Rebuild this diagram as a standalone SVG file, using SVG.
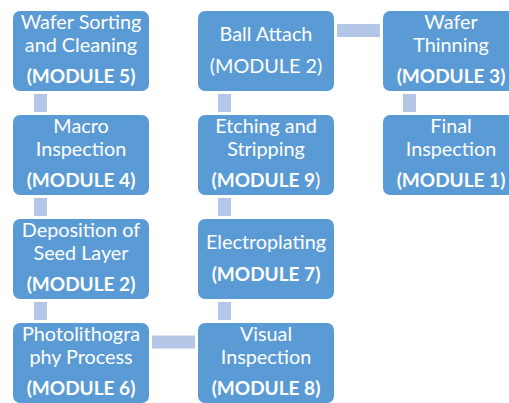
<svg xmlns="http://www.w3.org/2000/svg" width="509" height="403" viewBox="0 0 509 403">
<style>
.box{fill:#5B9BD5}
.con{fill:#B4C7E7}
text{font-family:Lato,"Liberation Sans",sans-serif;font-size:19.8px;fill:#FFFFFF;text-anchor:middle}
.b{font-weight:bold;font-size:19px}
.r{font-weight:normal}
</style>
<rect width="509" height="403" fill="#FFFFFF"/>
<g id="connectors">
<rect class="con" x="34" y="94" width="13" height="18"/>
<rect class="con" x="34" y="198" width="13" height="18"/>
<rect class="con" x="34" y="302" width="13" height="18"/>
<rect class="con" x="152" y="335.5" width="43" height="13"/>
<rect class="con" x="218" y="302" width="13" height="18"/>
<rect class="con" x="218" y="198" width="13" height="18"/>
<rect class="con" x="218" y="94" width="13" height="18"/>
<rect class="con" x="337" y="24" width="43" height="13"/>
<rect class="con" x="403" y="94" width="13" height="18"/>
</g>
<g id="n1">
<rect class="box" x="13" y="11" width="136" height="80" rx="7"/>
<text x="81" y="29">Wafer Sorting</text>
<text x="81" y="52">and Cleaning</text>
<text x="81" y="83" class="b">(MODULE 5)</text>
</g>
<g id="n2">
<rect class="box" x="13" y="115" width="136" height="80" rx="7"/>
<text x="81" y="133">Macro</text>
<text x="81" y="156">Inspection</text>
<text x="81" y="187" class="b">(MODULE 4)</text>
</g>
<g id="n3">
<rect class="box" x="13" y="219" width="136" height="80" rx="7"/>
<text x="81" y="237">Deposition of</text>
<text x="81" y="260">Seed Layer</text>
<text x="81" y="291" class="b">(MODULE 2)</text>
</g>
<g id="n4">
<rect class="box" x="13" y="323" width="136" height="80" rx="7"/>
<text x="81" y="341">Photolithogra</text>
<text x="81" y="364">phy Process</text>
<text x="81" y="395" class="b">(MODULE 6)</text>
</g>
<g id="n5">
<rect class="box" x="198" y="323" width="136" height="80" rx="7"/>
<text x="266" y="341">Visual</text>
<text x="266" y="364">Inspection</text>
<text x="266" y="395" class="b">(MODULE 8)</text>
</g>
<g id="n6">
<rect class="box" x="198" y="219" width="136" height="80" rx="7"/>
<text x="266" y="249">Electroplating</text>
<text x="266" y="281" class="b">(MODULE 7)</text>
</g>
<g id="n7">
<rect class="box" x="198" y="115" width="136" height="80" rx="7"/>
<text x="266" y="133">Etching and</text>
<text x="266" y="156">Stripping</text>
<text x="266" y="187"><tspan class="b">(MODULE 9</tspan><tspan class="r">)</tspan></text>
</g>
<g id="n8">
<rect class="box" x="198" y="11" width="136" height="80" rx="7"/>
<text x="266" y="41">Ball Attach</text>
<text x="266" y="73">(MODULE 2)</text>
</g>
<g id="n9">
<rect class="box" x="383" y="11" width="136" height="80" rx="7"/>
<text x="451" y="29">Wafer</text>
<text x="451" y="52">Thinning</text>
<text x="451" y="83" class="b">(MODULE 3)</text>
</g>
<g id="n10">
<rect class="box" x="383" y="115" width="136" height="80" rx="7"/>
<text x="451" y="133">Final</text>
<text x="451" y="156">Inspection</text>
<text x="451" y="187" class="b">(MODULE 1)</text>
</g>
</svg>
